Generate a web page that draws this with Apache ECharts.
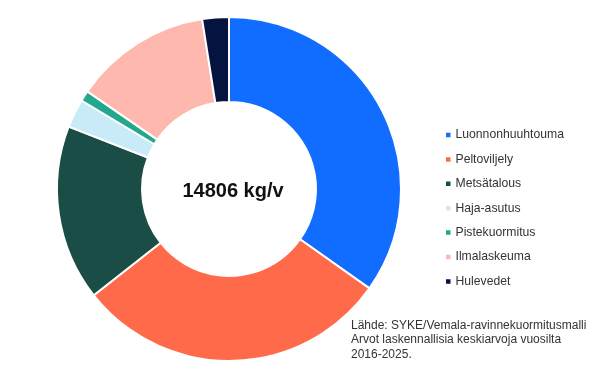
<!DOCTYPE html>
<html>
<head>
<meta charset="utf-8">
<script src="https://cdn.jsdelivr.net/npm/echarts@6/dist/echarts.min.js"></script>
<style>html,body{margin:0;padding:0;background:#fff}#c{width:600px;height:379px}</style>
</head>
<body>
<div id="c"></div>
<script>
const categories = ['Luonnonhuuhtouma','Peltoviljely','Metsätalous','Haja-asutus','Pistekuormitus','Ilmalaskeuma','Hulevedet'];
const values = [5152, 4383, 2443, 400, 148, 1910, 370];
const colors = ['#116dff','#ff6b4a','#1a4d45','#c9ebf8','#23a88e','#ffb8ad','#04133f'];
const centerText = '14806 kg/v';
const sourceLines = ['Lähde: SYKE/Vemala-ravinnekuormitusmalli','Arvot laskennallisia keskiarvoja vuosilta','2016-2025.'];

const chart = echarts.init(document.getElementById('c'), null, {renderer:'canvas'});
chart.setOption({
  animation:false,
  color: colors,
  legend: {
    orient:'vertical', left:444, top:129, padding:0,
    icon:'rect', itemWidth:6.5, itemHeight:6.5, itemGap:12.4,
    textStyle:{fontFamily:'Liberation Sans, Arial, sans-serif', fontSize:12.2, color:'#333', padding:[0,0,0,-1]},
    data: categories
  },
  graphic: [
    {type:'text', left:351, top:318, style:{text:sourceLines.join('\n'), font:'12px "Liberation Sans", Arial, sans-serif', fill:'#333', lineHeight:14.5}},
    {type:'text', x:233, y:191, style:{text:centerText, font:'bold 20px "Liberation Sans", Arial, sans-serif', fill:'#111', align:'center', verticalAlign:'middle'}}
  ],
  series: [{
    type:'pie',
    center:[229,189],
    radius:[87,172],
    startAngle:90,
    clockwise:true,
    label:{show:false},
    labelLine:{show:false},
    itemStyle:{borderColor:'#fff', borderWidth:2},
    emphasis:{disabled:true},
    data: categories.map((n,i)=>({name:n, value:values[i]}))
  }]
});
</script>
</body>
</html>
